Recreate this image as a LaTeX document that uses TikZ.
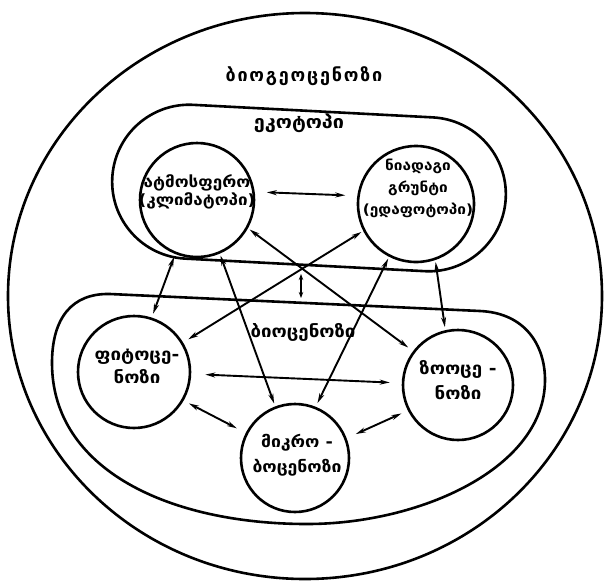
\documentclass[tikz,border=0pt]{standalone}
\usepackage{fontspec}
\setmainfont{DejaVu Sans}
\newfontfamily\geo{DejaVu Sans Bold}[FakeStretch=1.1]
\newfontfamily\geotitle{DejaVu Sans Bold}[LetterSpace=10]
\usetikzlibrary{arrows.meta}
\begin{document}
\begin{tikzpicture}[x=1pt,y=-1pt,
  ring/.style={line width=2.6pt},
  circ/.style={circle, draw, line width=2.6pt, inner sep=0pt},
  lbl/.style={align=center, inner sep=0pt},
  dbl/.style={{Stealth[length=10pt,width=5pt]}-{Stealth[length=10pt,width=5pt]}, line width=1.9pt},
  tiny/.style={{Stealth[length=6pt,width=4.5pt]}-{Stealth[length=6pt,width=4.5pt]}, line width=1.9pt}]
\useasboundingbox (0,0) rectangle (605,582);
\fill[white] (0,0) rectangle (605,582);
% outer biogeocenosis
\draw[ring] (305,296) ellipse [x radius=297pt, y radius=283pt];
% ecotope
\node[draw, ring, rounded corners=77pt, minimum width=394pt, minimum height=154pt, rotate=-3] (eco) at (309,188) {};
% biocenosis
\draw[ring] (110,294) -- (480,311) .. controls (525,313) and (545,345) .. (545,380)
  .. controls (545,468) and (420,524) .. (307,524)
  .. controls (170,524) and (52,470) .. (52,363)
  .. controls (52,318) and (72,293) .. (110,294) -- cycle;
% circles
\node[circ, minimum size=114pt] (atm) at (197,200) {};
\node[circ, minimum size=116pt] (soil) at (416,204) {};
\node[circ, minimum size=112pt] (phyto) at (134,372) {};
\node[circ, minimum size=110pt] (zoo) at (458,385) {};
\node[circ, minimum size=108pt] (micro) at (295,458) {};
% labels
\node[lbl, font=\geotitle\fontsize{18}{20}\selectfont] (title) at (304,76) {ბიოგეოცენოზი};
\node[lbl, font=\geo\fontsize{18}{20}\selectfont] (ecoT) at (299,123) {ეკოტოპი};
\node[lbl, font=\geo\fontsize{17}{20}\selectfont] (bioT) at (303,332) {ბიოცენოზი};
\node[lbl, font=\geo\fontsize{15.5}{18}\selectfont] (atmT) at (197,192) {ატმოსფერო\\(კლიმატოპი)};
\node[lbl, font=\geo\fontsize{14}{22}\selectfont] (soilT) at (418,188) {ნიადაგი\\გრუნტი\\(ედაფოტოპი)};
\node[lbl, font=\geo\fontsize{17}{23}\selectfont] (phytoT) at (137,366) {ფიტოცე-\\ნოზი};
\node[lbl, font=\geo\fontsize{17}{25}\selectfont] (zooT) at (458,380) {ზოოცე -\\ნოზი};
\node[lbl, font=\geo\fontsize{16}{25}\selectfont] (microT) at (297,455) {მიკრო -\\ბოცენოზი};
% connectors
\draw[dbl, shorten <=12pt, shorten >=12pt] (atm.8) -- (soil.172);
\draw[dbl, shorten <=3pt, shorten >=4pt] (atm.-112) -- (phyto.72);
\draw[dbl, shorten <=2pt, shorten >=3pt] (atm.-67) -- (micro.111);
\draw[dbl, shorten <=2pt, shorten >=6pt] (atm.-29) -- (zoo.143);
\draw[dbl, shorten <=2pt, shorten >=6pt] (soil.-153) -- (phyto.31);
\draw[dbl, shorten <=2pt, shorten >=4pt] (soil.-117) -- (micro.68);
\draw[dbl, shorten <=2pt, shorten >=3pt] (soil.-71) -- (zoo.103);
\draw[dbl, shorten <=14pt, shorten >=12pt] (phyto.-2) -- (zoo.178);
\draw[dbl, shorten <=6pt, shorten >=10pt] (phyto.-30) -- (micro.153);
\draw[dbl, shorten <=7pt, shorten >=10pt] (zoo.-153) -- (micro.21);
\coordinate (s1) at (301,274);
\coordinate (s2) at (301,298);
\draw[tiny] (s1) -- (s2);
\end{tikzpicture}
\end{document}
